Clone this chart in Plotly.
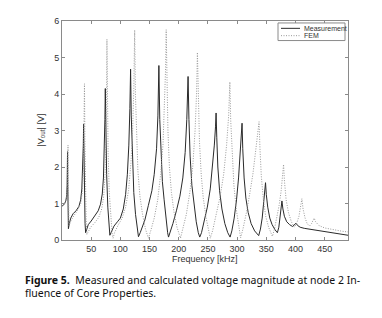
import plotly.graph_objects as go

# ---- data ----
meas_f = [0, 4, 6.5, 8, 8.8, 9.2, 9.5, 9.9, 10.4, 11, 12.5, 15, 19, 24, 29, 32, 34, 35.5, 36.5, 37,
          37.6, 38.5, 39.5, 40.5, 42, 45, 50, 56, 62, 66, 69, 71, 72.5, 73.5, 74.2, 75, 76.5, 78.5,
          80.5, 82, 84, 89, 95, 100, 105, 109, 112, 114.5, 116.3, 117.5, 118.7, 120.5, 123, 126,
          129, 131, 134, 138, 142, 148, 154, 158, 162, 164.3, 166, 167.5, 169.5, 172, 175, 178,
          181, 182.5, 185, 190, 196, 202, 207, 211, 213.8, 216, 217.5, 219.5, 222.5, 226, 230,
          233.5, 236, 239, 244, 249, 254, 258, 261, 263, 264, 265.2, 267, 270, 274, 279, 284, 288,
          291, 295, 299, 302.5, 305.5, 307.5, 308.5, 309.7, 312, 315, 319, 324, 330, 337, 340, 343,
          345.5, 347.5, 348.7, 350, 352.5, 356, 360, 365, 369, 371.5, 373.5, 375.5, 376.8, 378.5,
          381, 385, 390, 395, 398.5, 401, 403.5, 408, 415, 427, 445, 463, 480, 490]
meas_v = [0.93, 0.98, 1.07, 1.2, 1.5, 1.9, 2.42, 1.5, 0.7, 0.31, 0.45, 0.6, 0.72, 0.8, 0.92, 1.1,
          1.4, 1.9, 2.6, 3.17, 2.2, 1.1, 0.45, 0.2, 0.28, 0.42, 0.52, 0.65, 0.8, 0.98, 1.26, 1.7,
          2.4, 3.3, 4.15, 3.1, 1.8, 0.9, 0.35, 0.13, 0.2, 0.38, 0.5, 0.6, 0.85, 1.25, 1.8, 2.6, 3.6,
          4.68, 3.4, 2.2, 1.3, 0.7, 0.3, 0.09, 0.2, 0.38, 0.55, 0.95, 1.35, 1.8, 2.5, 3.4, 4.78,
          3.3, 2.3, 1.6, 1.1, 0.6, 0.2, 0.08, 0.2, 0.45, 0.8, 1.2, 1.7, 2.4, 3.3, 4.48, 3.3, 2.3,
          1.5, 0.95, 0.5, 0.2, 0.08, 0.2, 0.55, 0.9, 1.4, 2.0, 2.6, 3.1, 3.48, 2.8, 2.0, 1.35, 0.85,
          0.45, 0.2, 0.08, 0.25, 0.6, 1.1, 1.7, 2.4, 2.95, 3.2, 2.5, 1.7, 1.15, 0.75, 0.45, 0.25,
          0.12, 0.3, 0.6, 0.95, 1.3, 1.57, 1.25, 0.9, 0.6, 0.42, 0.28, 0.2, 0.35, 0.6, 0.9, 1.07,
          0.85, 0.65, 0.5, 0.42, 0.37, 0.42, 0.46, 0.4, 0.35, 0.32, 0.29, 0.23, 0.18, 0.15, 0.13]

fem_f = [0, 4, 7, 8.8, 9.8, 10.3, 10.8, 11.4, 12, 13.5, 16, 21, 27, 32, 35, 36.8, 37.8, 38.5, 39.2,
         40.2, 41.3, 42.5, 44.5, 49, 56, 63, 68, 71.5, 73.8, 75.3, 76.3, 77, 77.8, 79, 81, 83.5, 86,
         87.5, 90, 96, 103, 109, 114, 118, 121, 123, 124.5, 125.8, 127.5, 130, 133.5, 138, 143, 148,
         152, 158, 164, 169, 173, 175.8, 177.5, 178.5, 179.7, 181.5, 184, 187.5, 192, 197, 203, 207,
         213, 219, 224, 228, 230.5, 232, 233.3, 235.5, 238.5, 242, 247, 251, 254, 258, 264, 271, 277,
         282, 285.5, 287.6, 289, 291.5, 294.5, 298.5, 302.5, 306, 310, 316, 322, 327, 331.5, 335,
         337.6, 339.2, 341.5, 345, 349, 354, 360.5, 364, 368, 372, 375.5, 378, 379.6, 381.2, 384,
         388, 393, 398, 402, 406, 409, 411, 413, 416.5, 420, 424, 427.5, 430, 432, 434.5, 440, 450,
         465, 480, 490]
fem_v = [0.92, 0.98, 1.1, 1.4, 2.0, 2.6, 1.6, 0.8, 0.4, 0.45, 0.55, 0.68, 0.82, 1.0, 1.35, 2.0, 3.0,
         4.28, 2.8, 1.4, 0.6, 0.15, 0.22, 0.35, 0.47, 0.62, 0.85, 1.2, 1.8, 2.7, 3.9, 5.5, 3.9, 2.4,
         1.3, 0.6, 0.15, 0.05, 0.2, 0.4, 0.6, 0.9, 1.35, 2.1, 3.0, 4.1, 5.75, 4.0, 2.8, 1.9, 1.2,
         0.7, 0.3, 0.05, 0.25, 0.6, 1.1, 1.8, 2.6, 3.7, 4.7, 5.76, 4.2, 3.0, 2.0, 1.3, 0.75, 0.35,
         0.05, 0.28, 0.7, 1.3, 2.0, 3.0, 4.0, 5.14, 3.9, 2.7, 1.8, 1.15, 0.6, 0.25, 0.05, 0.25, 0.65,
         1.2, 1.8, 2.6, 3.4, 4.33, 3.3, 2.3, 1.5, 0.85, 0.4, 0.06, 0.3, 0.75, 1.3, 1.8, 2.4, 2.9,
         3.24, 2.5, 1.75, 1.1, 0.65, 0.35, 0.1, 0.3, 0.6, 0.95, 1.35, 1.75, 2.07, 1.6, 1.1, 0.75,
         0.5, 0.35, 0.45, 0.65, 0.9, 1.13, 0.85, 0.6, 0.45, 0.38, 0.45, 0.53, 0.6, 0.5, 0.4, 0.33,
         0.28, 0.24, 0.22]

series_names = ["Measurement", "FEM"]
x_ticks = [50, 100, 150, 200, 250, 300, 350, 400, 450]
y_ticks = [0, 1, 2, 3, 4, 5, 6]

AX = "#8a8a8a"
TXT = "#333333"
FONT = "Liberation Sans, Arial, sans-serif"
CAP_FONT = "Noto Sans, sans-serif"
MEAS_COLOR = "#2a2a2a"
FEM_COLOR = "#9a9a9a"
FEM_DASH = "1px,1.5px"

# page offset of the plotly div (browser body margin)
OFF = 8
W, H = 374, 302
L, R, T, B = 54, 34, 8, 70
PW, PH = W - L - R, H - T - B


def px(xpage):
    return (xpage - OFF - L) / PW


def py(ypage):
    return 1 - (ypage - OFF - T) / PH


fig = go.Figure()
fig.add_trace(go.Scatter(x=meas_f, y=meas_v, mode="lines", name=series_names[0],
                         line=dict(color=MEAS_COLOR, width=1)))
fig.add_trace(go.Scatter(x=fem_f, y=fem_v, mode="lines", name=series_names[1],
                         line=dict(color=FEM_COLOR, width=1, dash=FEM_DASH)))

axis_common = dict(showline=True, linecolor=AX, linewidth=1, mirror="ticks", ticks="inside",
                   ticklen=3, tickcolor=AX, showgrid=False, zeroline=False,
                   tickfont=dict(family=FONT, size=9, color=TXT))
fig.update_xaxes(range=[0, 490], tickvals=x_ticks, ticktext=[str(v) for v in x_ticks], **axis_common)
fig.update_yaxes(range=[0, 6], tickvals=y_ticks, ticktext=[str(v) for v in y_ticks], **axis_common)

# manual legend (box, samples, labels) in page pixel positions
shapes = [
    dict(type="rect", xref="paper", yref="paper", x0=px(278), x1=px(345), y0=py(18), y1=py(36),
         line=dict(color=AX, width=1), fillcolor="white", layer="above"),
    dict(type="line", xref="paper", yref="paper", x0=px(281), x1=px(300), y0=py(23.5), y1=py(23.5),
         line=dict(color=MEAS_COLOR, width=1), layer="above"),
    dict(type="line", xref="paper", yref="paper", x0=px(281), x1=px(300), y0=py(31), y1=py(31),
         line=dict(color=FEM_COLOR, width=1, dash=FEM_DASH), layer="above"),
]

annotations = [
    dict(text=series_names[0], x=px(302), y=py(23.5), xref="paper", yref="paper",
         xanchor="left", yanchor="middle", showarrow=False,
         font=dict(family=FONT, size=7, color=TXT)),
    dict(text=series_names[1], x=px(302), y=py(31), xref="paper", yref="paper",
         xanchor="left", yanchor="middle", showarrow=False,
         font=dict(family=FONT, size=7, color=TXT)),
    dict(text="Frequency [kHz]", x=px(205), y=py(259), xref="paper", yref="paper",
         xanchor="center", yanchor="middle", showarrow=False,
         font=dict(family=FONT, size=9, color=TXT)),
    dict(text="|V<sub>out</sub>| [V]", x=px(41), y=py(128), xref="paper", yref="paper",
         xanchor="center", yanchor="middle", textangle=-90, showarrow=False,
         font=dict(family=FONT, size=9, color=TXT)),
    dict(text="<b>Figure 5.</b>  Measured and calculated voltage magnitude at node 2 In-",
         x=px(23), y=py(281), xref="paper", yref="paper", xanchor="left", yanchor="middle",
         showarrow=False, font=dict(family=CAP_FONT, size=10.5, color="#111111")),
    dict(text="fluence of Core Properties.",
         x=px(23), y=py(294.5), xref="paper", yref="paper", xanchor="left", yanchor="middle",
         showarrow=False, font=dict(family=CAP_FONT, size=10.5, color="#111111")),
]

fig.update_layout(
    width=W, height=H,
    margin=dict(l=L, r=R, t=T, b=B),
    paper_bgcolor="white", plot_bgcolor="white",
    showlegend=False,
    shapes=shapes,
    annotations=annotations,
)

fig.write_html("out.html")
